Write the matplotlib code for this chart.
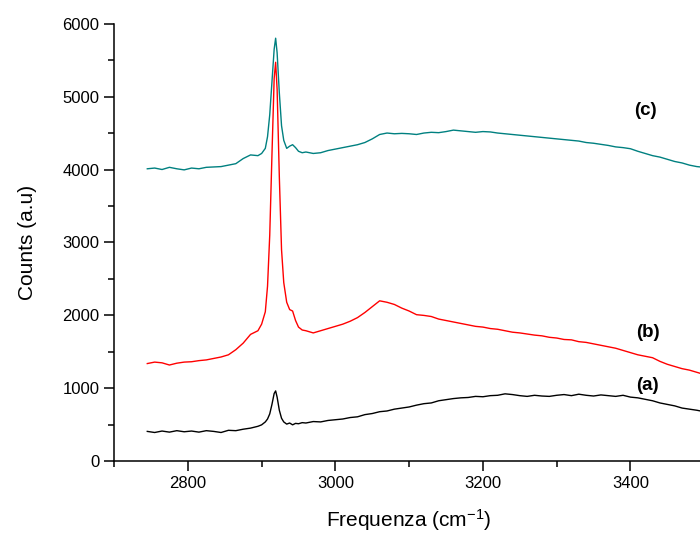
import matplotlib
matplotlib.use("Agg")
import matplotlib.pyplot as plt
from matplotlib.ticker import MultipleLocator

plt.rcParams['font.family'] = ['Liberation Sans', 'DejaVu Sans']
plt.rcParams['mathtext.default'] = 'regular'

# wavenumber grid (denser around the 2919 peak)
freq = [2745, 2755, 2765, 2775, 2785, 2795, 2805, 2815, 2825, 2835, 2845, 2855,
        2865, 2875, 2885, 2895,
        2900, 2905, 2908, 2911, 2914, 2917, 2919, 2921, 2924, 2927, 2930, 2934,
        2938, 2942, 2946, 2950, 2955,
        2960, 2970, 2980, 2990, 3000, 3010, 3020, 3030, 3040, 3050, 3060, 3070,
        3080, 3090, 3100, 3110, 3120, 3130, 3140, 3150, 3160, 3170, 3180, 3190,
        3200, 3210, 3220, 3230, 3240, 3250, 3260, 3270, 3280, 3290, 3300, 3310,
        3320, 3330, 3340, 3350, 3360, 3370, 3380, 3390, 3400, 3410, 3420, 3430,
        3440, 3450, 3460, 3470, 3480, 3490, 3500]

counts_a = [410, 395, 415, 400, 420, 405, 415, 400, 420, 410, 395, 425,
            420, 440, 455, 480,
            500, 540, 580, 650, 780, 930, 965, 880, 700, 590, 540, 510,
            525, 500, 520, 515, 530,
            525, 545, 540, 560, 570, 580, 600, 610, 640, 655, 680, 690,
            715, 730, 745, 770, 790, 800, 830, 845, 860, 870, 875, 890,
            885, 900, 905, 925, 915, 900, 890, 905, 895, 890, 905, 915,
            900, 920, 905, 895, 910, 900, 890, 905, 880, 870, 850, 830,
            800, 780, 760, 730, 715, 700, 680]

counts_b = [1340, 1360, 1350, 1320, 1345, 1360, 1365, 1380, 1390, 1410, 1430, 1460,
            1530, 1620, 1740, 1790,
            1880, 2050, 2400, 3100, 4200, 5250, 5470, 5100, 3900, 2900, 2450, 2180,
            2080, 2060, 1930, 1840, 1800,
            1790, 1760, 1790, 1820, 1850, 1880, 1920, 1970, 2040, 2120, 2200, 2180,
            2150, 2100, 2060, 2010, 2000, 1985, 1950, 1930, 1910, 1890, 1870, 1850,
            1840, 1820, 1810, 1790, 1770, 1760, 1745, 1730, 1720, 1700, 1690, 1670,
            1665, 1640, 1630, 1610, 1590, 1570, 1550, 1520, 1490, 1460, 1440, 1420,
            1370, 1330, 1300, 1270, 1250, 1220, 1190]

counts_c = [4010, 4020, 4000, 4030, 4010, 3995, 4020, 4010, 4030, 4035, 4040, 4060,
            4080, 4150, 4200, 4190,
            4220, 4290, 4450, 4750, 5200, 5650, 5800, 5600, 5050, 4600, 4400, 4290,
            4320, 4340, 4300, 4250, 4230,
            4240, 4220, 4230, 4260, 4280, 4300, 4320, 4340, 4370, 4420, 4480, 4500,
            4490, 4495, 4490, 4480, 4500, 4510, 4505, 4520, 4540, 4530, 4520, 4510,
            4520, 4515, 4500, 4490, 4480, 4470, 4460, 4450, 4440, 4430, 4420, 4410,
            4400, 4390, 4370, 4360, 4345, 4330, 4310, 4300, 4285, 4250, 4220, 4190,
            4170, 4140, 4110, 4090, 4060, 4040, 4030]

labels = ['(a)', '(b)', '(c)']
label_pos = [(3423, 1045), (3424, 1760), (3420, 4810)]
colors = ['black', '#ff0000', '#008080']

fig = plt.figure(figsize=(7, 5.33), dpi=100)
ax = fig.add_axes([0.163, 0.1345, 0.843, 0.8212])

for y, c in zip([counts_a, counts_b, counts_c], colors):
    ax.plot(freq, y, color=c, lw=1.0)

for lab, (lx, ly) in zip(labels, label_pos):
    ax.text(lx, ly, lab, fontsize=13.5, fontweight='bold', ha='center', va='center')

ax.set_xlim(2700, 3500)
ax.set_ylim(0, 6000)
ax.xaxis.set_major_locator(MultipleLocator(200))
ax.xaxis.set_minor_locator(MultipleLocator(100))
ax.yaxis.set_major_locator(MultipleLocator(1000))
ax.yaxis.set_minor_locator(MultipleLocator(500))
ax.tick_params(which='major', length=7, width=1.1, labelsize=12, direction='out')
ax.tick_params(which='minor', length=4, width=1.1, direction='out')
ax.spines['top'].set_visible(False)
ax.spines['right'].set_visible(False)
ax.spines['left'].set_linewidth(1.1)
ax.spines['bottom'].set_linewidth(1.1)

ax.set_xlabel('Frequenza (cm$^{-1}$)', fontsize=15, labelpad=12)
ax.set_ylabel('Counts (a.u)', fontsize=15, labelpad=18)

fig.savefig('out.png', dpi=100)
